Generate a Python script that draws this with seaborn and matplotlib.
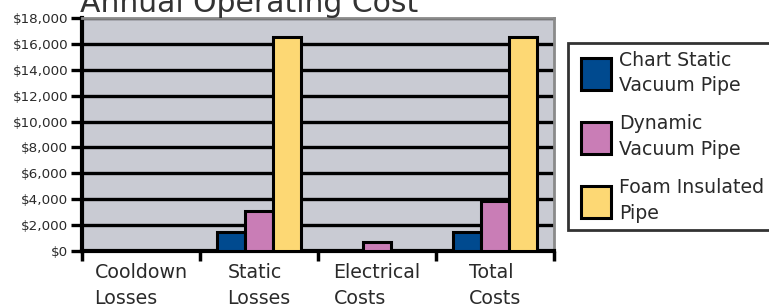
import numpy as np
import pandas as pd
import matplotlib
matplotlib.use("Agg")
import matplotlib.pyplot as plt
from matplotlib.ticker import FuncFormatter, FixedLocator
from matplotlib.patches import Rectangle
from matplotlib.legend_handler import HandlerPatch
import seaborn as sns

# Data
categories = ["Cooldown\nLosses", "Static\nLosses", "Electrical\nCosts", "Total\nCosts"]
pipes = ["Chart Static\nVacuum Pipe", "Dynamic\nVacuum Pipe", "Foam Insulated\nPipe"]
chart_static = [0, 1500, 0, 1500]
dynamic = [0, 3100, 700, 3900]
foam = [0, 16500, 0, 16500]
y_ticks = list(range(0, 18001, 2000))

colors = ["#004A8F", "#C97DB6", "#FDD874"]

df = pd.DataFrame({
    "category": categories * 3,
    "pipe": [p for p in pipes for _ in categories],
    "cost": chart_static + dynamic + foam,
})

sns.set_theme(style="white")
plt.rcParams["font.family"] = ["DejaVu Sans"]
text_color = "#2a2a2a"

fig = plt.figure(figsize=(7.69, 3.06), dpi=100)
ax = fig.add_axes([82 / 769, 55 / 306, 472 / 769, 233 / 306])
ax.set_facecolor("#C9CBD3")

sns.barplot(
    data=df, x="category", y="cost", hue="pipe",
    order=categories, hue_order=pipes, palette=colors,
    width=0.71, edgecolor="black", linewidth=2.2, saturation=1,
    errorbar=None, ax=ax, zorder=3,
)

ax.set_xlim(-0.5, len(categories) - 0.5)
ax.set_ylim(0, 18000)
ax.set_yticks(y_ticks)
ax.yaxis.set_major_formatter(FuncFormatter(lambda v, _: f"${v:,.0f}"))
ax.grid(axis="y", color="black", linewidth=2.4)
ax.set_axisbelow(True)

# ticks at category boundaries, labels at category centres
bounds = np.arange(len(categories) + 1) - 0.5
ax.xaxis.set_major_locator(FixedLocator(bounds))
ax.set_xticklabels([""] * len(bounds))
ax.xaxis.set_minor_locator(FixedLocator(np.arange(len(categories))))
ax.set_xticklabels(categories, minor=True)
ax.tick_params(axis="x", which="major", direction="out", length=7, width=2.5,
               color="black", bottom=True)
ax.tick_params(axis="x", which="minor", length=0, pad=9, labelsize=13.7,
               labelcolor=text_color)
for lbl in ax.get_xticklabels(minor=True):
    lbl.set_multialignment("left")
    lbl.set_linespacing(1.4)
ax.tick_params(axis="y", direction="out", length=8, width=2.4, color="black",
               left=True, labelsize=9.7, labelcolor=text_color, pad=2)
ax.set_xlabel("")
ax.set_ylabel("")

for side in ["left", "bottom"]:
    ax.spines[side].set_color("black")
    ax.spines[side].set_linewidth(3)
for side in ["top", "right"]:
    ax.spines[side].set_color("#8a8a8a")
    ax.spines[side].set_linewidth(2)


def square_patch(legend, orig_handle, xdescent, ydescent, width, height, fontsize):
    w = 1.6 * fontsize
    h = 1.7 * fontsize
    return Rectangle((-xdescent + width - w, -ydescent + (height - h) / 2), w, h)


handles, labels = ax.get_legend_handles_labels()
ax.get_legend().remove()
for h in handles:
    h.set_edgecolor("black")
    h.set_linewidth(2.2)
leg = fig.legend(
    handles, labels, loc="upper left", bbox_to_anchor=(568 / 769, 1 - 43 / 306),
    borderaxespad=0, fancybox=False, frameon=True, fontsize=13.6,
    handlelength=1.9, handleheight=1.7, handletextpad=0.4,
    labelspacing=1.0, borderpad=0.4,
    handler_map={type(handles[0]): HandlerPatch(patch_func=square_patch)},
)
leg.get_frame().set_edgecolor("black")
leg.get_frame().set_linewidth(2)
for t in leg.get_texts():
    t.set_color(text_color)
    t.set_linespacing(1.45)

fig.text(80 / 769, 1 - 12 / 306, "Annual Operating Cost", fontsize=21.5,
         color="#333333", va="baseline", ha="left")

fig.savefig("out.png", dpi=100)
